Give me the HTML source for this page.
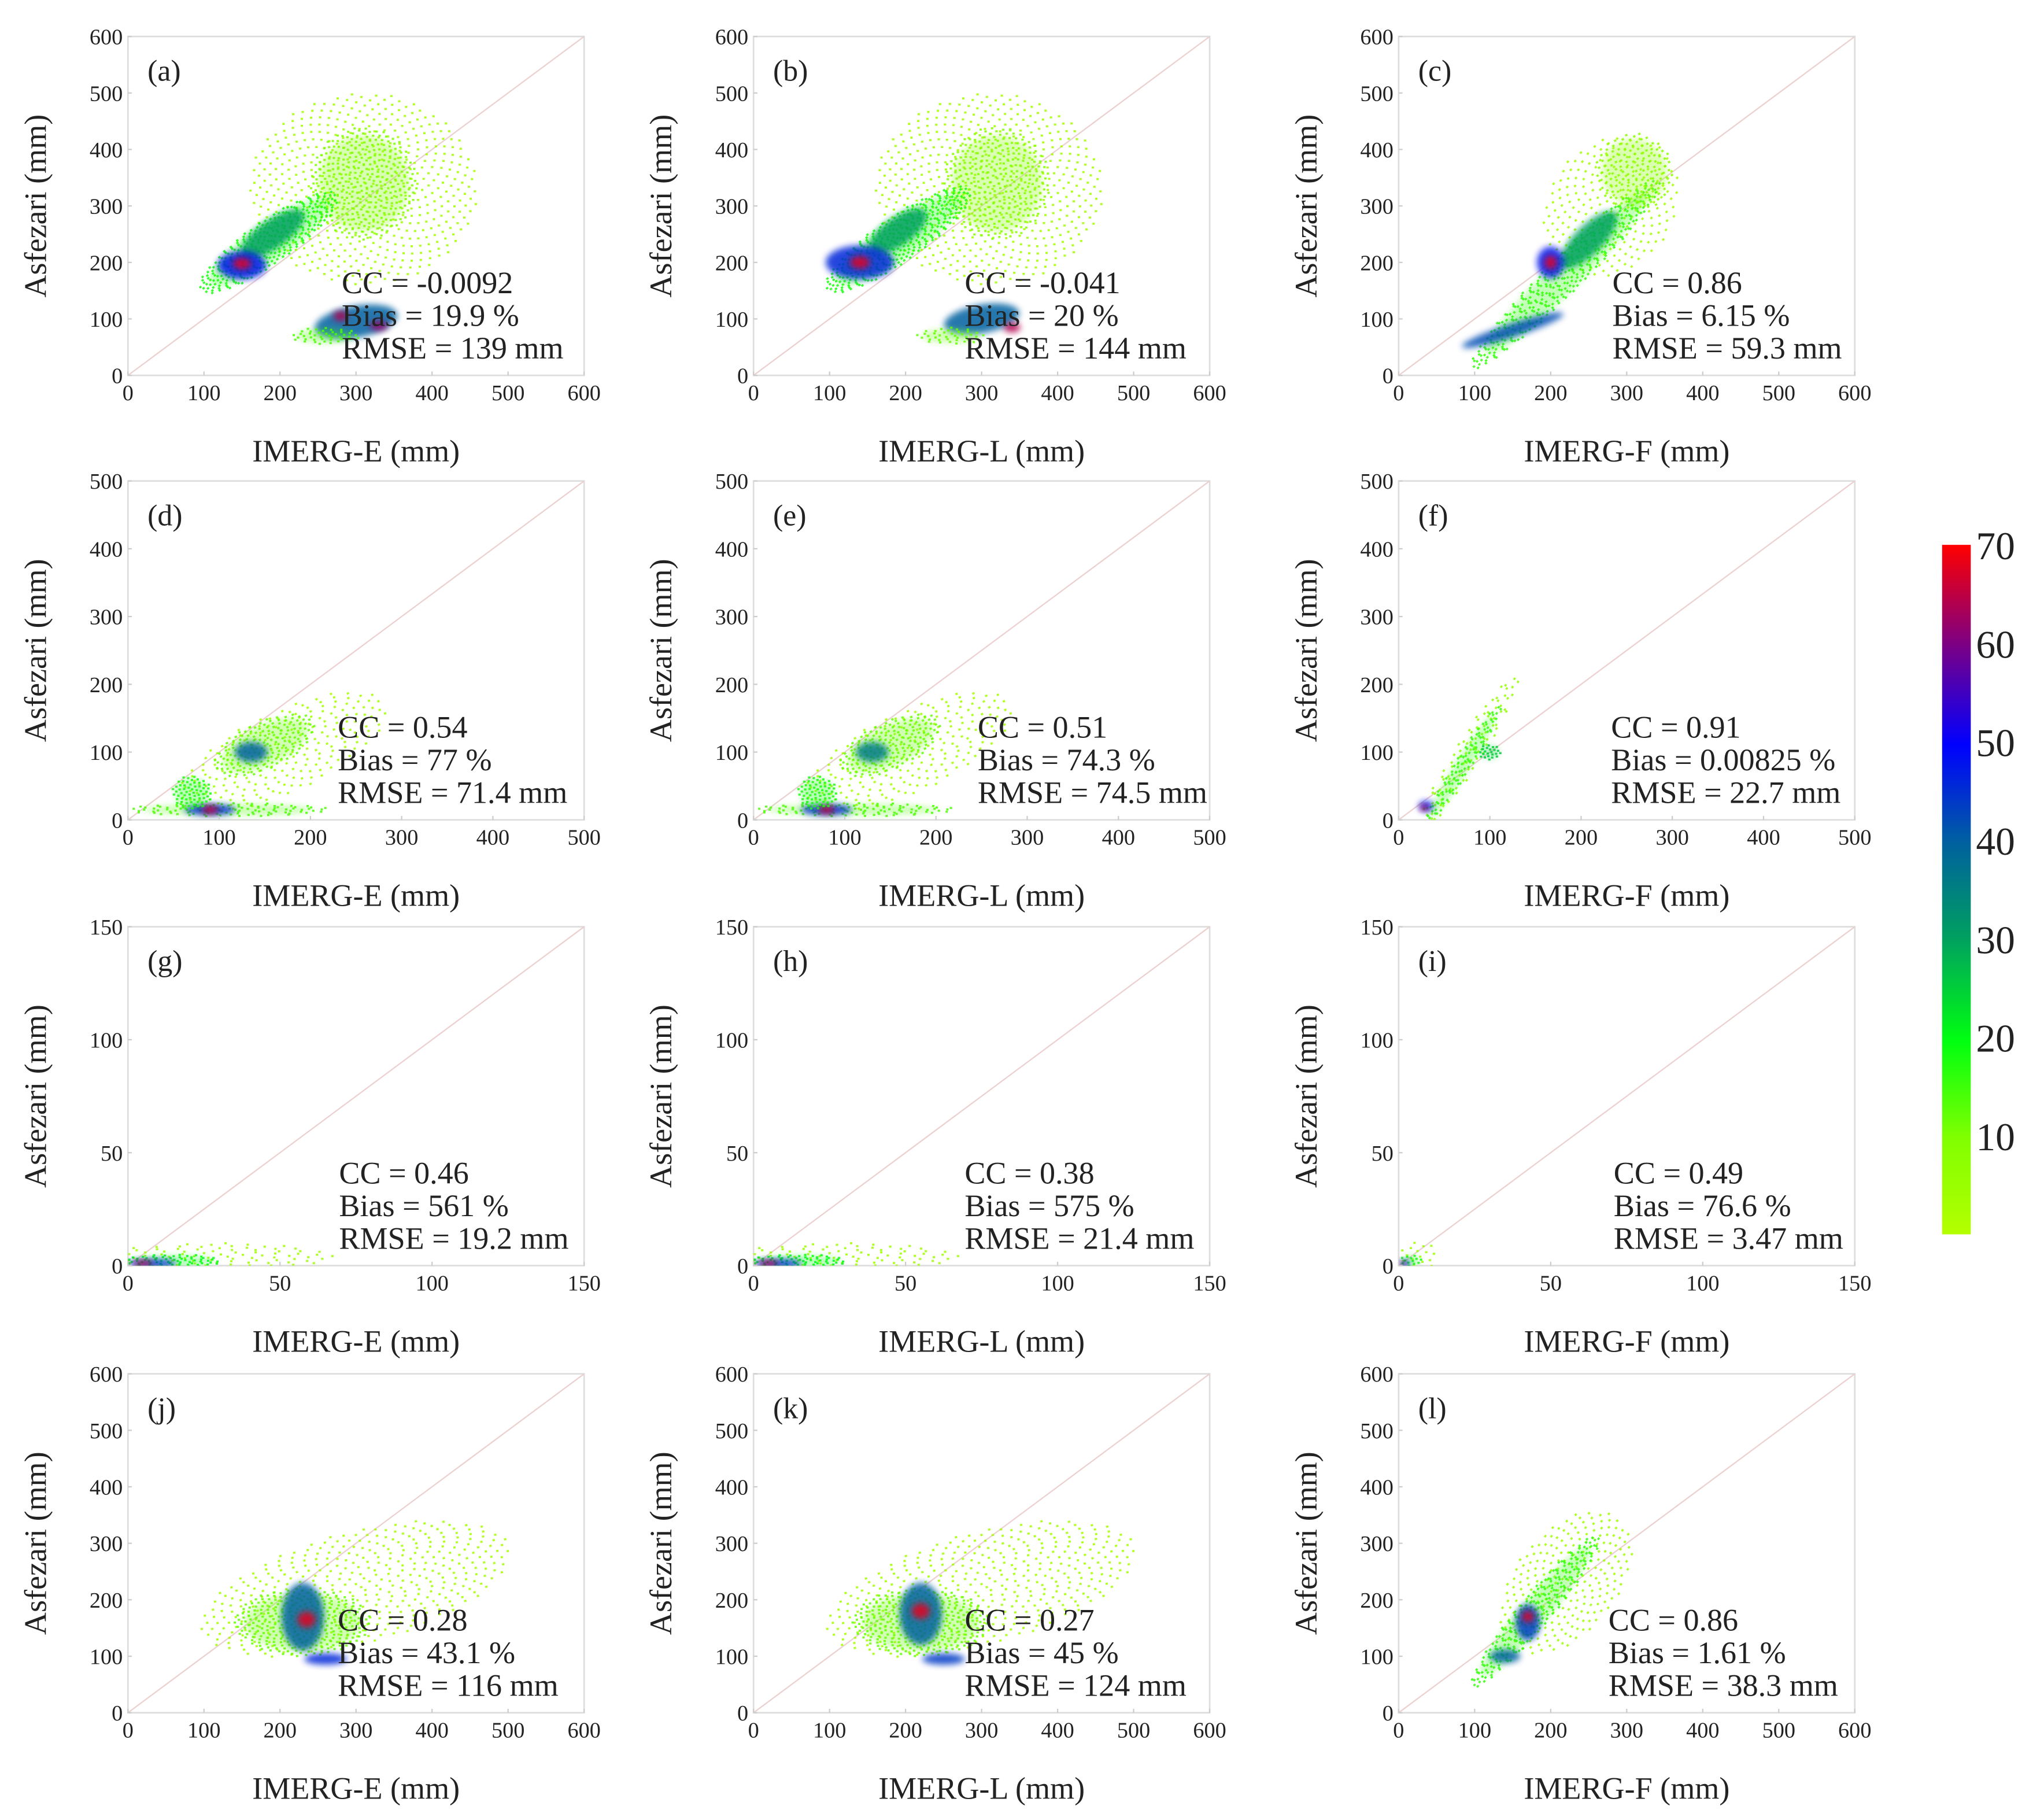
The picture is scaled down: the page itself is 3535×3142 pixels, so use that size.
<!DOCTYPE html>
<html><head><meta charset="utf-8">
<style>
html,body{margin:0;padding:0;background:#fff;}
svg{display:block;}
text{font-family:"Liberation Serif","DejaVu Serif",serif;fill:#222;}
</style></head>
<body>
<svg id="fig" width="3535" height="3142" viewBox="0 0 1568 1394" xmlns="http://www.w3.org/2000/svg" font-family="Liberation Serif, serif">
<defs>
<filter id="soft" x="-50%" y="-50%" width="200%" height="200%"><feGaussianBlur stdDeviation="2.5"/></filter>
<linearGradient id="cbgrad" x1="0" y1="1" x2="0" y2="0">
<stop offset="0" stop-color="#b4ff00"/><stop offset="0.14" stop-color="#80ff00"/>
<stop offset="0.28" stop-color="#00ff10"/><stop offset="0.43" stop-color="#00a060"/>
<stop offset="0.57" stop-color="#0060a0"/><stop offset="0.71" stop-color="#0000ff"/>
<stop offset="0.86" stop-color="#800080"/><stop offset="1" stop-color="#ff0000"/>
</linearGradient>
</defs>
</svg>
<script>
// panel configuration data
const panelLabels = ["(a)","(b)","(c)","(d)","(e)","(f)","(g)","(h)","(i)","(j)","(k)","(l)"];
const xTitles = ["IMERG-E (mm)","IMERG-L (mm)","IMERG-F (mm)"];
const rowMax = [600,500,150,600];
const rowTicks = [[0,100,200,300,400,500,600],[0,100,200,300,400,500],[0,50,100,150],[0,100,200,300,400,500,600]];
const ccVals = ["-0.0092","-0.041","0.86","0.54","0.51","0.91","0.46","0.38","0.49","0.28","0.27","0.86"];
const biasVals = ["19.9","20","6.15","77","74.3","0.00825","561","575","76.6","43.1","45","1.61"];
const rmseVals = ["139","144","59.3","71.4","74.5","22.7","19.2","21.4","3.47","116","124","38.3"];
const statX = [262,740,1237,259,750,1236,260,740,1238,259,740,1234];
// density clusters per panel: [cx, cy, rx, ry, angleDeg(screen), densityLevel]
const clusters = [
 [[310,330,150,170,0,3],[310,340,70,100,0,10],[185,235,110,38,-35,18],[190,250,50,25,-35,30],[150,195,32,25,0,48],[150,198,12,10,0,68],[300,95,55,28,-10,40],[280,105,10,9,0,64],[330,88,12,9,0,62],[260,70,45,15,0,14]],
 [[310,330,150,170,0,3],[320,340,70,100,0,9],[190,240,115,40,-35,18],[190,255,45,25,-35,30],[140,200,45,30,0,46],[140,200,13,11,0,68],[300,100,50,25,-10,40],[340,85,11,9,0,64],[260,70,45,15,0,12]],
 [[280,300,100,110,-50,3],[220,180,175,32,-45,16],[250,240,50,25,-45,30],[150,80,70,12,-18,42],[200,200,18,28,0,48],[200,200,8,12,0,68],[310,360,50,70,-30,8]],
 [[170,100,125,60,-25,3],[150,110,60,35,-25,12],[135,100,18,15,0,40],[110,15,110,10,0,14],[90,15,28,8,0,46],[90,15,9,6,0,66],[70,40,22,25,0,18]],
 [[170,100,125,60,-25,3],[150,110,60,35,-25,12],[130,100,18,15,0,36],[110,15,110,10,0,14],[80,15,28,8,0,46],[80,15,9,6,0,66],[70,40,22,25,0,18]],
 [[75,95,105,20,-58,6],[70,80,80,12,-58,16],[100,100,12,12,0,25],[30,20,8,8,0,48],[28,18,4,4,0,68]],
 [[30,4,38,6,0,4],[15,2,16,3,0,20],[8,1,8,1.8,0,46],[5,1,3,1.2,0,66]],
 [[30,4,38,6,0,4],[15,2,16,3,0,20],[8,1,8,1.8,0,46],[5,1,3,1.2,0,66]],
 [[6,4,7,7,0,4],[4,2,3.5,3,0,18],[2,1,1.8,1.5,0,46],[1.5,1,0.8,0.8,0,66]],
 [[300,220,210,100,-15,3],[230,160,90,60,0,12],[230,170,28,60,0,40],[235,165,12,14,0,68],[260,95,28,10,0,46]],
 [[300,220,210,100,-15,3],[220,160,90,60,0,12],[220,175,28,55,0,40],[220,180,12,14,0,68],[250,95,28,10,0,44]],
 [[220,230,110,90,-50,4],[180,180,130,28,-50,16],[170,160,16,32,0,44],[170,170,8,10,0,68],[140,100,20,12,0,40]]
];
const cbTicks = [10,20,30,40,50,60,70];
</script>
<script>
const NS = "http://www.w3.org/2000/svg";
const svg = document.getElementById('fig');
const colX = [98,578,1073];
const rowY = [28,369,711,1054];
const PW = 350, PH = 260;
const FONT = '"Liberation Serif", serif';
function mk(tag, attrs, parent){
  const e = document.createElementNS(NS, tag);
  for (const k in attrs) e.setAttribute(k, attrs[k]);
  if (tag==='text') e.setAttribute('font-family', FONT);
  (parent||svg).appendChild(e);
  return e;
}
const cstops = [[0,[180,255,0]],[10,[128,255,0]],[20,[0,255,16]],[30,[0,160,96]],[40,[0,96,160]],[50,[0,0,255]],[60,[128,0,128]],[70,[255,0,0]]];
function cmap(v){
  for (let i=0;i<cstops.length-1;i++){
    const a=cstops[i],b=cstops[i+1];
    if (v<=b[0]){const t=Math.max(0,(v-a[0])/(b[0]-a[0]));
      return 'rgb('+a[1].map((c,j)=>Math.round(c+(b[1][j]-c)*t)).join(',')+')';}
  }
  return 'rgb(255,0,0)';
}
for (let p=0;p<12;p++){
  const r=Math.floor(p/3), c=p%3;
  const L=colX[c], T=rowY[r], M=rowMax[r];
  const sx=v=>L+v/M*PW, sy=v=>T+PH-v/M*PH;
  const g=mk('g',{});
  
  
  const clipId='clip'+p;
  const cp=mk('clipPath',{id:clipId},g); mk('rect',{x:L,y:T,width:PW,height:PH},cp);
  const frame=mk('rect',{x:L,y:T,width:PW,height:PH,fill:'#fff',stroke:'#ddd','stroke-width':1.2},g);
  
  
  const dl=mk('line',{x1:sx(0),y1:sy(0),x2:sx(M),y2:sy(M),stroke:'#ecd0d0','stroke-width':1},g);
  
  
  const cg=mk('g',{'clip-path':'url(#'+clipId+')'},g);
  clusters[p].forEach((k,i)=>{
    const cx=sx(k[0]), cy=sy(k[1]), rx=k[2]/M*PW, ry=k[3]/M*PH, lv=k[5];
    const col=cmap(lv);
    const tr='rotate('+k[4]+' '+cx+' '+cy+')';
    if (lv<30){
      const cg2=mk('g',{transform:tr},cg);
      
      
      if (lv>=8){ mk('ellipse',{cx:cx,cy:cy,rx:rx*0.85,ry:ry*0.85,fill:col,opacity:0.3,filter:'url(#soft)'},cg2); }
      const area=Math.PI*rx*ry;
      const n=Math.min(1200,Math.round(area*(0.012+lv*0.005)));
      let d='';
      for (let j=0;j<n;j++){
        const rr=Math.sqrt((j+0.5)/n), th=j*2.39996;
        const px=cx+rr*Math.cos(th)*rx, py=cy+rr*Math.sin(th)*ry;
        d+='M'+(px-0.9).toFixed(1)+' '+py.toFixed(1)+'h1.8';
      }
      mk('path',{d:d,stroke:col,'stroke-width':1.6,fill:'none',opacity:0.85},cg2);
    } else {
      const e=mk('ellipse',{cx:cx,cy:cy,rx:rx,ry:ry,fill:col,opacity:0.85,filter:'url(#soft)',transform:tr},cg);
      
      
    }
  });
  rowTicks[r].forEach(v=>{
    const yt=mk('text',{x:L-4,y:sy(v)+6,'text-anchor':'end','font-size':17},g); yt.textContent=v;
    
    
    const xt=mk('text',{x:sx(v),y:T+PH+19,'text-anchor':'middle','font-size':17},g); xt.textContent=v;
    
    
    mk('line',{x1:sx(v),y1:T+PH,x2:sx(v),y2:T+PH-3,stroke:'#ccc'},g);
    mk('line',{x1:L,y1:sy(v),x2:L+3,y2:sy(v),stroke:'#ccc'},g);
  });
  const pl=mk('text',{x:L+15,y:T+34,'font-size':23},g); pl.textContent=panelLabels[p];
  
  
  const xtl=mk('text',{x:L+PW/2,y:T+PH+66,'text-anchor':'middle','font-size':24},g); xtl.textContent=xTitles[c];
  
  
  const ytl=mk('text',{x:0,y:0,'text-anchor':'middle','font-size':24,transform:'translate('+(L-63)+' '+(T+PH/2)+') rotate(-90)'},g); ytl.textContent='Asfezari (mm)';
  
  
  const st=[ 'CC = '+ccVals[p], 'Bias = '+biasVals[p]+' %', 'RMSE = '+rmseVals[p]+' mm'];
  st.forEach((s,i)=>{
    const t=mk('text',{x:statX[p],y:T+197+i*25,'font-size':24},g); t.textContent=s;
    
    
  });
}
// colorbar
const cb=mk('rect',{x:1490,y:418,width:22,height:529,fill:'url(#cbgrad)'});


const cbTop=418, cbBot=947, cbMin=0, cbMax=70;
cbTicks.forEach(v=>{
  const y=cbBot-(v-cbMin)/(cbMax-cbMin)*(cbBot-cbTop);
  const t=mk('text',{x:1516,y:y+11,'font-size':30}); t.textContent=v;
  
  
});
</script>
</body></html>
